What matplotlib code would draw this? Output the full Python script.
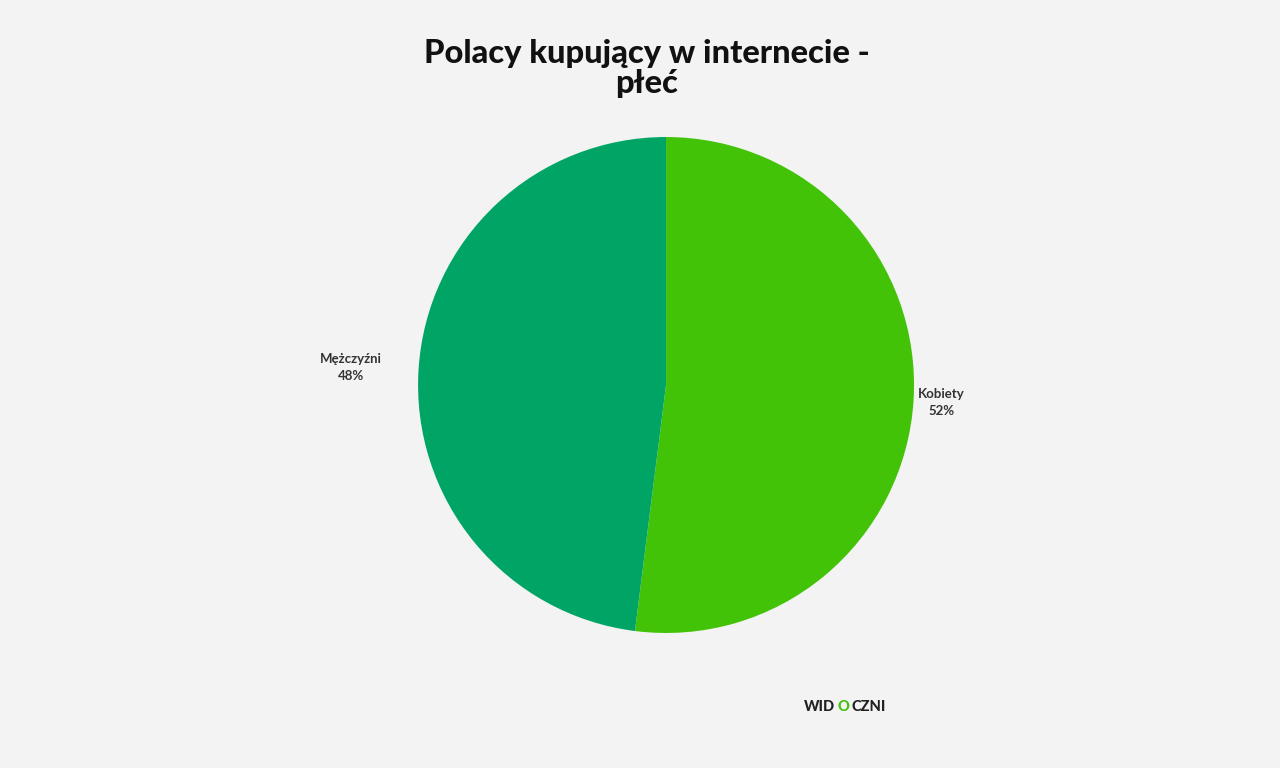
import matplotlib
matplotlib.use('Agg')
import matplotlib.pyplot as plt

labels = ['Kobiety', 'Mężczyźni']
values = [52, 48]
colors = ['#43C308', '#00A566']
title = 'Polacy kupujący w internecie -\npłeć'

plt.rcParams['font.family'] = ['Lato', 'DejaVu Sans']

fig = plt.figure(figsize=(12.8, 7.68), dpi=100)
fig.patch.set_facecolor('#f3f3f3')

ax = fig.add_axes([0.3266, 0.1758, 0.3875, 0.6458])
wedges, _ = ax.pie(values, colors=colors, startangle=90, counterclock=False,
                   radius=1.0, wedgeprops=dict(linewidth=0))
ax.set_xlim(-1, 1)
ax.set_ylim(-1, 1)
ax.set_aspect('equal')
ax.axis('off')

# label positions (data coords of the pie axes)
lab_pos = [(1.11, -0.07), (-1.27, 0.07)]
for (x, y), name, v in zip(lab_pos, labels, values):
    ax.text(x, y, f'{name}\n{v}%', ha='center', va='center', fontsize=9.5,
            color='#333333', fontweight='bold', linespacing=1.55,
            multialignment='center')

fig.text(0.5055, 0.911, title, ha='center', va='center', fontsize=23.5,
         fontweight='black', color='#111111', linespacing=1.05)

# watermark
fig.text(0.6525, 0.079, 'WID', ha='right', va='center', fontsize=10.5,
         fontweight='black', color='#222222')
fig.text(0.6590, 0.079, 'O', ha='center', va='center', fontsize=10.5,
         fontweight='black', color='#43C308')
fig.text(0.6655, 0.079, 'CZNI', ha='left', va='center', fontsize=10.5,
         fontweight='black', color='#222222')

fig.savefig('out.png', dpi=100, facecolor=fig.get_facecolor())
